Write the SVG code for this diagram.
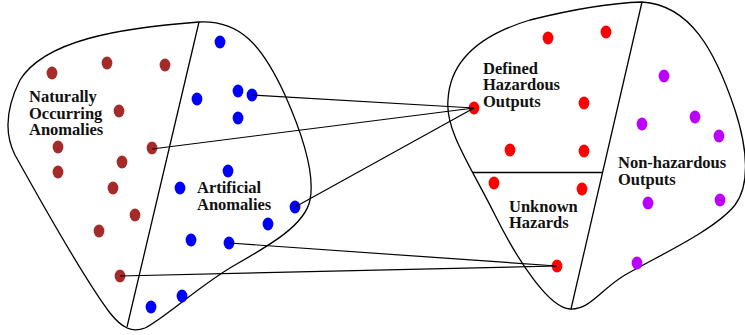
<svg xmlns="http://www.w3.org/2000/svg" xmlns:xlink="http://www.w3.org/1999/xlink" width="745" height="335" viewBox="0 0 745 335">
<style>
.outline{fill:none;stroke:#000;stroke-width:1.3}
.lbl{font-family:"Liberation Serif","Times New Roman",serif;font-weight:bold;font-size:16.5px;fill:#111}
.conn{stroke:#000;stroke-width:1.2;fill:none}
.brown{fill:#a52a2a}
.blue{fill:#0000ff}
.red{fill:#ff0000}
.purple{fill:#bb00ff}
</style>
<defs>
<ellipse id="dot" cx="0" cy="0" rx="5.4" ry="6.5"/>
</defs>
<rect width="745" height="335" fill="#fff"/>
<g id="inputs">
<path class="outline" d="M199,22 C240,20 262,45 285,95 C305,140 315,175 310,200 C305,225 270,245 235,265 C200,285 165,318 145,328 C132,333 122,328 110,313 C85,280 40,200 15,155 C5,135 5,110 20,80 C45,40 120,28 199,22 Z"/>
<line class="outline" x1="199" y1="22" x2="127" y2="327"/>
</g>
<g id="natural">
<text class="lbl" x="29" y="102">Naturally</text>
<text class="lbl" x="29" y="118.5">Occurring</text>
<text class="lbl" x="29" y="135">Anomalies</text>
<g class="brown">
<use xlink:href="#dot" x="52" y="73"/>
<use xlink:href="#dot" x="107" y="63"/>
<use xlink:href="#dot" x="165" y="65"/>
<use xlink:href="#dot" x="119" y="111"/>
<use xlink:href="#dot" x="58" y="147"/>
<use xlink:href="#dot" x="58" y="172"/>
<use xlink:href="#dot" x="152" y="148"/>
<use xlink:href="#dot" x="122" y="162"/>
<use xlink:href="#dot" x="113" y="188"/>
<use xlink:href="#dot" x="135" y="215"/>
<use xlink:href="#dot" x="99" y="231"/>
<use xlink:href="#dot" x="120" y="276"/>
</g>
</g>
<g id="artificial">
<text class="lbl" x="197" y="193">Artificial</text>
<text class="lbl" x="197" y="210">Anomalies</text>
<g class="blue">
<use xlink:href="#dot" x="220" y="42"/>
<use xlink:href="#dot" x="197" y="99"/>
<use xlink:href="#dot" x="238" y="91"/>
<use xlink:href="#dot" x="252" y="95"/>
<use xlink:href="#dot" x="238" y="118"/>
<use xlink:href="#dot" x="228" y="171"/>
<use xlink:href="#dot" x="180" y="188"/>
<use xlink:href="#dot" x="295" y="207"/>
<use xlink:href="#dot" x="268" y="224"/>
<use xlink:href="#dot" x="191" y="240"/>
<use xlink:href="#dot" x="229" y="243"/>
<use xlink:href="#dot" x="182" y="296"/>
<use xlink:href="#dot" x="151" y="307"/>
</g>
</g>
<g id="outputs">
<path class="outline" d="M642,2 C690,5 715,50 735,110 C748,150 750,185 735,205 C715,230 660,255 625,275 C600,290 590,310 570,309 C550,308 520,265 495,215 C470,165 445,130 448,100 C450,60 480,35 530,20 C570,10 610,3 642,2 Z"/>
<line class="outline" x1="642" y1="2" x2="571" y2="309"/>
<line class="outline" x1="473" y1="172.5" x2="603" y2="172.5"/>
</g>
<g id="defined">
<text class="lbl" x="483" y="73.5">Defined</text>
<text class="lbl" x="483" y="90">Hazardous</text>
<text class="lbl" x="483" y="106.5">Outputs</text>
<g class="red">
<use xlink:href="#dot" x="548" y="38"/>
<use xlink:href="#dot" x="606" y="32"/>
<use xlink:href="#dot" x="474" y="108"/>
<use xlink:href="#dot" x="584" y="103"/>
<use xlink:href="#dot" x="510" y="150"/>
<use xlink:href="#dot" x="584" y="151"/>
</g>
</g>
<g id="unknown">
<text class="lbl" x="509" y="212">Unknown</text>
<text class="lbl" x="509" y="228">Hazards</text>
<g class="red">
<use xlink:href="#dot" x="494" y="183"/>
<use xlink:href="#dot" x="582" y="189"/>
<use xlink:href="#dot" x="557" y="266"/>
</g>
</g>
<g id="nonhazardous">
<text class="lbl" x="618" y="168">Non-hazardous</text>
<text class="lbl" x="618" y="184.5">Outputs</text>
<g class="purple">
<use xlink:href="#dot" x="664" y="76"/>
<use xlink:href="#dot" x="642" y="124"/>
<use xlink:href="#dot" x="695" y="117"/>
<use xlink:href="#dot" x="719" y="136"/>
<use xlink:href="#dot" x="648" y="203"/>
<use xlink:href="#dot" x="720" y="200"/>
<use xlink:href="#dot" x="637" y="263"/>
</g>
</g>
<g id="connectors">
<line class="conn" x1="252" y1="95" x2="474" y2="108"/>
<line class="conn" x1="152" y1="149" x2="474" y2="108"/>
<line class="conn" x1="295" y1="207" x2="474" y2="108"/>
<line class="conn" x1="229" y1="243" x2="557" y2="266"/>
<line class="conn" x1="120" y1="276" x2="557" y2="266"/>
</g>
</svg>
